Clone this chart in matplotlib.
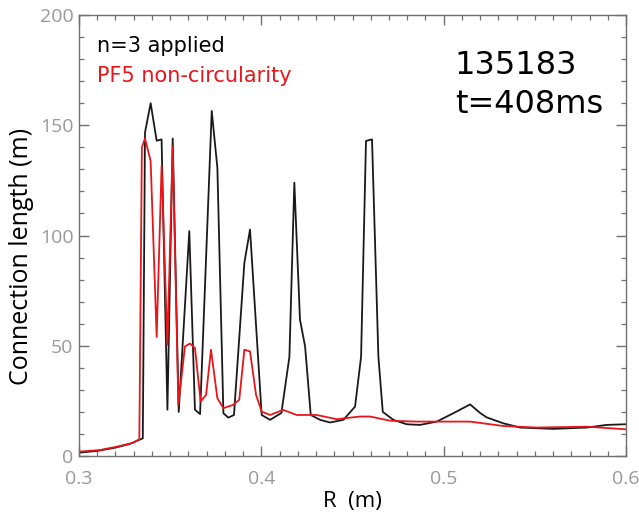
import matplotlib
matplotlib.use('Agg')
import matplotlib.pyplot as plt
from matplotlib.ticker import MultipleLocator

# n=3 applied (black)
r_n3 = [0.300, 0.310, 0.320, 0.328, 0.3335, 0.3350, 0.3362, 0.3393, 0.3426, 0.3453,
        0.3485, 0.3514, 0.3547, 0.3605, 0.3636, 0.3664, 0.3728, 0.3759, 0.3792, 0.3819,
        0.3850, 0.3907, 0.3938, 0.4002, 0.4048, 0.4110, 0.4154, 0.4181, 0.4212, 0.4240,
        0.4271, 0.4322, 0.4377, 0.4450, 0.4514, 0.4547, 0.4574, 0.4607, 0.4642, 0.4666,
        0.4724, 0.4797, 0.4870, 0.4962, 0.5053, 0.5145, 0.5200, 0.5236, 0.5328, 0.5419,
        0.5600, 0.5785, 0.5894, 0.6000]
l_n3 = [1.5, 2.3, 3.8, 5.5, 7.5, 8.0, 146.7, 160, 143, 143.6,
        21, 144, 20, 102, 21, 19, 156.5, 130.7, 19.4, 17.4,
        18.6, 87.6, 102.7, 18.6, 16.4, 19.5, 45, 124, 61.8, 49.7,
        18.6, 16.4, 15.2, 16.4, 22.4, 45, 142.9, 143.6, 45, 20,
        16.4, 14.4, 14.1, 15.6, 19.4, 23.4, 19.5, 17.5, 14.8, 12.9,
        12.3, 12.9, 14.1, 14.4]

# PF5 non-circularity (red)
r_pf5 = [0.300, 0.3115, 0.3207, 0.3298, 0.3331, 0.3345, 0.3362, 0.3393, 0.3426, 0.3453,
         0.3485, 0.3514, 0.3545, 0.3581, 0.3609, 0.3636, 0.3667, 0.3697, 0.3724, 0.3759,
         0.3792, 0.3846, 0.3879, 0.3907, 0.3938, 0.3971, 0.4002, 0.4048, 0.4120, 0.4194,
         0.4304, 0.4413, 0.4541, 0.4596, 0.4706, 0.4852, 0.5035, 0.5145, 0.5328, 0.5510,
         0.5785, 0.6000]
l_pf5 = [2.0, 2.7, 4.2, 6.0, 7.6, 140, 144, 133.8, 54, 131.5,
         50.5, 140.6, 23, 49.7, 51, 49, 24.7, 27.7, 48.2, 26.2,
         21.7, 23.2, 25.5, 48.2, 47.4, 27.7, 20.1, 18.6, 20.9, 18.6,
         18.6, 16.7, 17.9, 17.9, 16.0, 15.6, 15.6, 15.6, 13.6, 12.9,
         13.3, 12.1]

fig = plt.figure(figsize=(6.39, 5.18), dpi=100)
ax = fig.add_axes([0.1236, 0.1197, 0.8561, 0.8513])

ax.plot(r_n3, l_n3, color='#1a1a1a', lw=1.3)
ax.plot(r_pf5, l_pf5, color='#e8161a', lw=1.3)

ax.set_xlim(0.3, 0.6)
ax.set_ylim(0, 200)
ax.xaxis.set_major_locator(MultipleLocator(0.1))
ax.xaxis.set_minor_locator(MultipleLocator(0.01))
ax.yaxis.set_major_locator(MultipleLocator(50))
ax.yaxis.set_minor_locator(MultipleLocator(10))
ax.set_xticks([0.3, 0.4, 0.5, 0.6])
ax.set_xticklabels(['0.3', '0.4', '0.5', '0.6'])

for s in ax.spines.values():
    s.set_color('#707070')
    s.set_linewidth(1.0)
ax.tick_params(which='both', direction='in', top=True, right=True, color='#707070')
ax.tick_params(which='major', length=7, width=1.0, labelsize=14, labelcolor='#999999')
ax.tick_params(axis='x', which='major', pad=10)
ax.tick_params(axis='y', which='major', pad=4)
ax.tick_params(which='minor', length=3.5, width=0.9)
for lab in ax.get_xticklabels() + ax.get_yticklabels():
    lab.set_family('Open Sans')

ax.set_xlabel('R  (m)', fontsize=16, family='Open Sans', labelpad=2)
ax.set_ylabel('Connection length (m)', fontsize=18, family='Open Sans')
ax.yaxis.set_label_coords(-0.083, 0.453)

ax.text(0.033, 0.916, 'n=3 applied', transform=ax.transAxes, fontsize=15,
        family='DejaVu Sans', color='black')
ax.text(0.033, 0.848, 'PF5 non-circularity', transform=ax.transAxes, fontsize=15,
        family='DejaVu Sans', color='#e8161a')
ax.text(0.687, 0.866, '135183', transform=ax.transAxes, fontsize=23,
        family='DejaVu Sans', color='black')
ax.text(0.687, 0.778, 't=408ms', transform=ax.transAxes, fontsize=23,
        family='DejaVu Sans', color='black')

fig.savefig('out.png', dpi=100)
